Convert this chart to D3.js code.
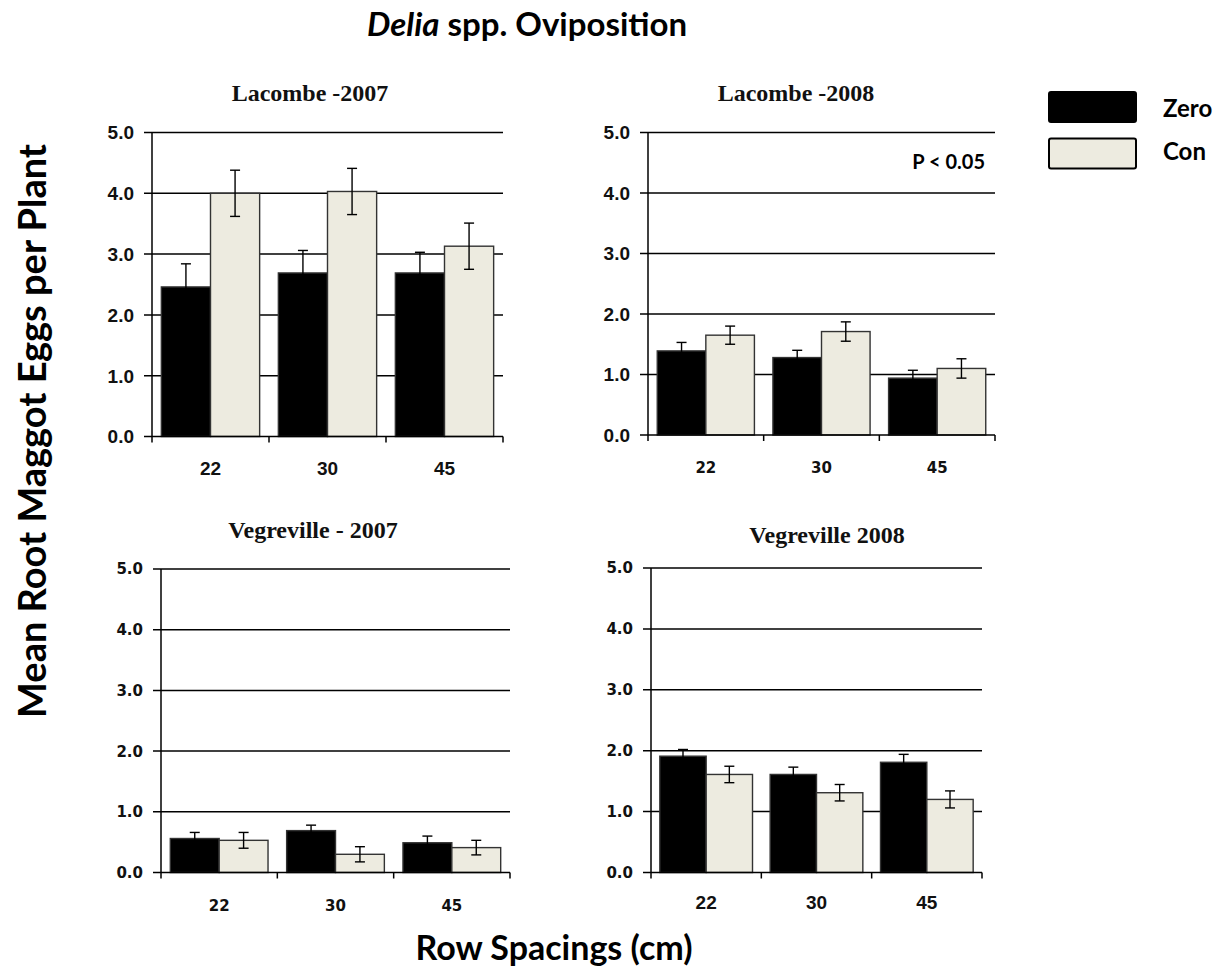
<!DOCTYPE html>
<html>
<head>
<meta charset="utf-8">
<script src="https://cdn.jsdelivr.net/npm/d3@7"></script>
<style>
html,body{margin:0;padding:0;background:#fff;}
svg{display:block;}
</style>
</head>
<body>
<svg id="chart" width="1220" height="968"></svg>
<script>
// ---------------- DATA ----------------
const categories = ["22", "30", "45"];
const seriesNames = ["Zero", "Con"];
const yTicks = [0, 1, 2, 3, 4, 5];
const panelTitles = ["Lacombe -2007", "Lacombe -2008", "Vegreville - 2007", "Vegreville 2008"];

const lacombe2007Zero    = [2.46, 2.69, 2.69];
const lacombe2007ZeroErr = [0.38, 0.37, 0.34];
const lacombe2007Con     = [4.00, 4.03, 3.13];
const lacombe2007ConErr  = [0.38, 0.38, 0.38];

const lacombe2008Zero    = [1.39, 1.28, 0.94];
const lacombe2008ZeroErr = [0.14, 0.12, 0.13];
const lacombe2008Con     = [1.65, 1.71, 1.10];
const lacombe2008ConErr  = [0.15, 0.16, 0.16];

const vegreville2007Zero    = [0.56, 0.69, 0.49];
const vegreville2007ZeroErr = [0.10, 0.09, 0.11];
const vegreville2007Con     = [0.53, 0.30, 0.41];
const vegreville2007ConErr  = [0.13, 0.125, 0.12];

const vegreville2008Zero    = [1.91, 1.61, 1.81];
const vegreville2008ZeroErr = [0.11, 0.12, 0.13];
const vegreville2008Con     = [1.61, 1.31, 1.20];
const vegreville2008ConErr  = [0.135, 0.135, 0.14];

// ---------------- LAYOUT ----------------
const colors = {Zero: "#000000", Con: "#EDEBE0"};
const SERIF = "'Liberation Serif', 'Times New Roman', serif";
const ARIAL = "'Liberation Sans', Arial, sans-serif";
const VERD = "'DejaVu Sans', Verdana, sans-serif";
const CAL = "Lato, 'Open Sans', sans-serif";

const panels = [
  {title: panelTitles[0], zero: lacombe2007Zero, zeroErr: lacombe2007ZeroErr, con: lacombe2007Con, conErr: lacombe2007ConErr,
   x0: 152, x1: 503, yTop: 132.5, yBot: 436.5, tx: 310, ty: 101,
   yFont: ARIAL, yFs: 19, xFont: ARIAL, xFs: 19, xLabY: 475},
  {title: panelTitles[1], zero: lacombe2008Zero, zeroErr: lacombe2008ZeroErr, con: lacombe2008Con, conErr: lacombe2008ConErr,
   x0: 648, x1: 995, yTop: 132.5, yBot: 435, tx: 796, ty: 101,
   yFont: ARIAL, yFs: 19, xFont: VERD, xFs: 15, xLabY: 473, note: "P < 0.05"},
  {title: panelTitles[2], zero: vegreville2007Zero, zeroErr: vegreville2007ZeroErr, con: vegreville2007Con, conErr: vegreville2007ConErr,
   x0: 161, x1: 510, yTop: 569, yBot: 872.5, tx: 313, ty: 538,
   yFont: VERD, yFs: 15, xFont: VERD, xFs: 15, xLabY: 911},
  {title: panelTitles[3], zero: vegreville2008Zero, zeroErr: vegreville2008ZeroErr, con: vegreville2008Con, conErr: vegreville2008ConErr,
   x0: 651, x1: 982, yTop: 568, yBot: 872.5, tx: 827, ty: 543,
   yFont: VERD, yFs: 15, xFont: ARIAL, xFs: 19, xLabY: 909}
];

const svg = d3.select("#chart");

panels.forEach(p => {
  const g = svg.append("g");
  const x = d3.scaleBand().domain(categories).range([p.x0, p.x1]).paddingInner(0.16).paddingOuter(0.08);
  const xs = d3.scaleBand().domain(seriesNames).range([0, x.bandwidth()]);
  const y = d3.scaleLinear().domain([0, 5]).range([p.yBot, p.yTop]);

  // gridlines + y ticks
  g.selectAll(".grid").data(yTicks.filter(t => t > 0)).enter().append("line")
    .attr("x1", p.x0 - 8).attr("x2", p.x1)
    .attr("y1", d => y(d)).attr("y2", d => y(d))
    .attr("stroke", "#000").attr("stroke-width", 1.5);

  // y tick labels
  g.selectAll(".ylab").data(yTicks).enter().append("text")
    .attr("x", p.x0 - 18).attr("y", d => y(d))
    .attr("dy", "0.36em")
    .attr("text-anchor", "end")
    .attr("font-family", p.yFont).attr("font-weight", "bold").attr("font-size", p.yFs)
    .attr("fill", "#111")
    .text(d => d.toFixed(1));

  // bars
  const rows = [];
  categories.forEach((c, i) => {
    rows.push({cat: c, s: "Zero", v: p.zero[i], e: p.zeroErr[i]});
    rows.push({cat: c, s: "Con", v: p.con[i], e: p.conErr[i]});
  });
  g.selectAll(".bar").data(rows).enter().append("rect")
    .attr("x", d => x(d.cat) + xs(d.s))
    .attr("width", xs.bandwidth())
    .attr("y", d => y(d.v))
    .attr("height", d => y(0) - y(d.v))
    .attr("fill", d => colors[d.s])
    .attr("stroke", "#333").attr("stroke-width", 1.4);

  // error bars
  const eb = g.selectAll(".eb").data(rows).enter().append("g");
  const cx = d => x(d.cat) + xs(d.s) + xs.bandwidth() / 2;
  eb.append("line").attr("x1", cx).attr("x2", cx)
    .attr("y1", d => y(d.v + d.e)).attr("y2", d => y(d.v - d.e))
    .attr("stroke", "#000").attr("stroke-width", 1.4);
  eb.append("line").attr("x1", d => cx(d) - 5).attr("x2", d => cx(d) + 5)
    .attr("y1", d => y(d.v + d.e)).attr("y2", d => y(d.v + d.e))
    .attr("stroke", "#000").attr("stroke-width", 1.4);
  eb.append("line").attr("x1", d => cx(d) - 5).attr("x2", d => cx(d) + 5)
    .attr("y1", d => y(d.v - d.e)).attr("y2", d => y(d.v - d.e))
    .attr("stroke", "#000").attr("stroke-width", 1.4);

  // axes lines
  g.append("line").attr("x1", p.x0).attr("x2", p.x0)
    .attr("y1", y(5)).attr("y2", y(0) + 6)
    .attr("stroke", "#000").attr("stroke-width", 1.5);
  g.append("line").attr("x1", p.x0 - 8).attr("x2", p.x1)
    .attr("y1", y(0)).attr("y2", y(0))
    .attr("stroke", "#000").attr("stroke-width", 1.5);
  // x ticks at category boundaries
  const bounds = categories.map(c => x(c) - x.step() * x.paddingInner() / 2).concat([p.x1]);
  g.selectAll(".xt").data(bounds.slice(1)).enter().append("line")
    .attr("x1", d => d).attr("x2", d => d)
    .attr("y1", y(0)).attr("y2", y(0) + 6)
    .attr("stroke", "#000").attr("stroke-width", 1.5);

  // x labels
  g.selectAll(".xlab").data(categories).enter().append("text")
    .attr("x", d => x(d) + x.bandwidth() / 2).attr("y", p.xLabY)
    .attr("text-anchor", "middle")
    .attr("font-family", p.xFont).attr("font-weight", "bold").attr("font-size", p.xFs)
    .attr("fill", "#111")
    .text(d => d);

  // title
  g.append("text").attr("x", p.tx).attr("y", p.ty)
    .attr("text-anchor", "middle")
    .attr("font-family", SERIF).attr("font-weight", "bold").attr("font-size", 24)
    .attr("fill", "#111")
    .text(p.title);

  if (p.note) {
    g.append("text").attr("x", p.x1 - 10).attr("y", 169)
      .attr("text-anchor", "end")
      .attr("font-family", CAL).attr("font-weight", "bold").attr("font-size", 20)
      .attr("fill", "#000")
      .text(p.note);
  }
});

// main title
const title = svg.append("text").attr("x", 527).attr("y", 36)
  .attr("text-anchor", "middle")
  .attr("font-family", CAL).attr("font-weight", "bold").attr("font-size", 33)
  .attr("fill", "#000");
title.append("tspan").attr("font-style", "italic").text("Delia");
title.append("tspan").text(" spp. Oviposition");

// axis titles
svg.append("text").attr("x", 554).attr("y", 960)
  .attr("text-anchor", "middle")
  .attr("font-family", CAL).attr("font-weight", "bold").attr("font-size", 34)
  .attr("fill", "#000")
  .text("Row Spacings (cm)");

svg.append("text").attr("transform", "translate(46,431) rotate(-90)")
  .attr("text-anchor", "middle")
  .attr("font-family", CAL).attr("font-weight", "bold").attr("font-size", 38)
  .attr("fill", "#000")
  .text("Mean Root Maggot Eggs per Plant");

// legend
const leg = svg.append("g");
seriesNames.forEach((s, i) => {
  leg.append("rect").attr("x", 1049).attr("y", 92 + i * 46.5)
    .attr("width", 87).attr("height", 30).attr("rx", 2)
    .attr("fill", colors[s]).attr("stroke", "#000").attr("stroke-width", 2);
  leg.append("text").attr("x", 1163).attr("y", 117 + i * 42.5)
    .attr("font-family", CAL).attr("font-weight", "bold").attr("font-size", 24)
    .attr("fill", "#000")
    .text(s);
});
</script>
</body>
</html>
